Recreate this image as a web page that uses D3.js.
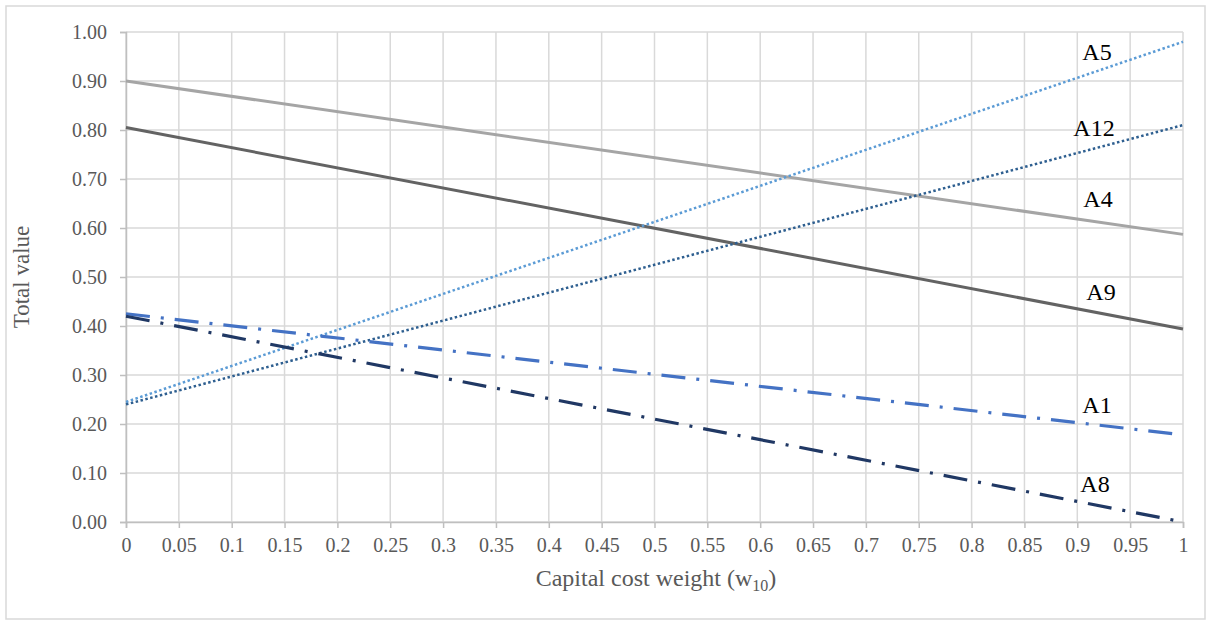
<!DOCTYPE html>
<html><head><meta charset="utf-8">
<script src="https://cdn.jsdelivr.net/npm/d3@7"></script>
<style>body{margin:0;background:#fff}svg{display:block}</style>
</head><body>
<script>
const xValues = [0, 1];
const seriesNames = ["A5", "A12", "A4", "A9", "A1", "A8"];
const A5 = [0.245, 0.980];
const A12 = [0.240, 0.810];
const A4 = [0.900, 0.587];
const A9 = [0.805, 0.394];
const A1 = [0.425, 0.178];
const A8 = [0.420, 0.000];
const xTicks = [0,0.05,0.1,0.15,0.2,0.25,0.3,0.35,0.4,0.45,0.5,0.55,0.6,0.65,0.7,0.75,0.8,0.85,0.9,0.95,1];
const xTickLabels = ["0","0.05","0.1","0.15","0.2","0.25","0.3","0.35","0.4","0.45","0.5","0.55","0.6","0.65","0.7","0.75","0.8","0.85","0.9","0.95","1"];
const yTicks = [0,0.1,0.2,0.3,0.4,0.5,0.6,0.7,0.8,0.9,1.0];
const yTickLabels = ["0.00","0.10","0.20","0.30","0.40","0.50","0.60","0.70","0.80","0.90","1.00"];
const xTitle = "Capital cost weight (w";
const xTitleSub = "10";
const yTitle = "Total value";

const W = 1210, H = 621;
const m = {left:126, right:1183, top:32, bottom:522};
const svg = d3.select("body").append("svg").attr("width", W).attr("height", H);
svg.append("rect").attr("x",6).attr("y",6).attr("width",1199).attr("height",613)
  .attr("fill","#fff").attr("stroke","#d9d9d9").attr("stroke-width",1.5);

const x = d3.scaleLinear().domain([0,1]).range([m.left, m.right]);
const y = d3.scaleLinear().domain([0,1]).range([m.bottom, m.top]);
const font = "'Liberation Serif','Times New Roman',serif";

// grid
const g = svg.append("g");
g.selectAll(".vg").data(xTicks).join("line")
  .attr("x1", d=>x(d)).attr("x2", d=>x(d)).attr("y1", m.top).attr("y2", m.bottom)
  .attr("stroke","#d9d9d9").attr("stroke-width",1.5);
g.selectAll(".hg").data(yTicks).join("line")
  .attr("x1", m.left).attr("x2", m.right).attr("y1", d=>y(d)).attr("y2", d=>y(d))
  .attr("stroke","#d9d9d9").attr("stroke-width",1.5);

// axes
const xAxis = d3.axisBottom(x).tickValues(xTicks).tickFormat((d,i)=>xTickLabels[i]).tickSize(6).tickPadding(10);
const yAxis = d3.axisLeft(y).tickValues(yTicks).tickFormat((d,i)=>yTickLabels[i]).tickSize(6).tickPadding(13);
const gx = svg.append("g").attr("transform",`translate(0,${m.bottom})`).call(xAxis);
const gy = svg.append("g").attr("transform",`translate(${m.left},0)`).call(yAxis);
[gx,gy].forEach(a=>{
  a.select(".domain").attr("stroke","#bfbfbf").attr("stroke-width",1.5);
  a.selectAll(".tick line").attr("stroke","#bfbfbf").attr("stroke-width",1.5);
  a.selectAll("text").attr("fill","#595959").style("font-family",font).style("font-size","20px");
});

// series
const series = [
  {name:"A4", vals:A4, color:"#a5a5a5", dash:null, w:3},
  {name:"A9", vals:A9, color:"#636363", dash:null, w:3},
  {name:"A5", vals:A5, color:"#5b9bd5", dash:"2.5 2.5", w:2.5},
  {name:"A12", vals:A12, color:"#2e5f90", dash:"2.5 2.5", w:2.5},
  {name:"A1", vals:A1, color:"#4472c4", dash:"24 11 3 11", w:3.2},
  {name:"A8", vals:A8, color:"#203864", dash:"24 11 3 11", w:3.2}
];
const line = d3.line().x((d,i)=>x(xValues[i])).y(d=>y(d));
svg.selectAll(".series").data(series).join("path")
  .attr("d", d=>line(d.vals)).attr("fill","none")
  .attr("stroke", d=>d.color).attr("stroke-width", d=>d.w)
  .attr("stroke-dasharray", d=>d.dash);

// series labels
const labelPos = {A5:[1097,60], A12:[1094,136], A4:[1098,207], A9:[1101,300], A1:[1097,413], A8:[1095,492]};
svg.selectAll(".lab").data(seriesNames).join("text")
  .attr("x", d=>labelPos[d][0]).attr("y", d=>labelPos[d][1])
  .attr("text-anchor","middle").attr("fill","#000")
  .style("font-family",font).style("font-size","24px").text(d=>d);

// titles
const xt = svg.append("text").attr("x",656).attr("y",586).attr("text-anchor","middle")
  .attr("fill","#595959").style("font-family",font).style("font-size","24px");
xt.append("tspan").text(xTitle);
xt.append("tspan").attr("dy",5).style("font-size","16px").text(xTitleSub);
xt.append("tspan").attr("dy",-5).text(")");
svg.append("text").attr("transform",`translate(29,${(m.top+m.bottom)/2}) rotate(-90)`)
  .attr("text-anchor","middle").attr("fill","#595959")
  .style("font-family",font).style("font-size","23px").text(yTitle);
</script>
</body></html>
